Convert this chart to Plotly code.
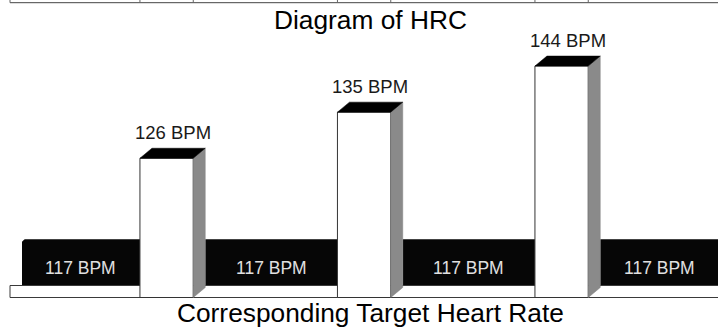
import plotly.graph_objects as go

# ---- data ----
target_labels = ["126 BPM", "135 BPM", "144 BPM"]
target_bpm = [126, 135, 144]
base_labels = ["117 BPM", "117 BPM", "117 BPM", "117 BPM"]
base_bpm = [117, 117, 117, 117]
title_text = "Diagram of HRC"
caption_text = "Corresponding Target Heart Rate"

# ---- canvas & geometry (pixels) ----
W, H = 718, 327
ML, MR, MT, MB = 8, 0, 0, 29
PW, PH = W - ML - MR, H - MT - MB

PERIOD_PX = 197.5        # spacing between tall columns
FIRST_COL_PX = 166.6     # centre of the first tall column (page x)
COL_W_PX = 53.3          # front width of a tall column
DEPTH_X_PX, DEPTH_Y_PX = 12.0, 10.0   # oblique depth of the 3D boxes
FLOOR_LEFT_PX = 10.0
FLOOR_H_PX = 12.0
FLOOR_BOTTOM_PX = 0.5    # floor bottom, above plot bottom
BEVEL_PX = 3.5           # chamfer on the band's outer corner
TEXT_CENTER_PX = 370.0

FONT = "Liberation Sans, Arial, sans-serif"

X_RANGE = [1 + (ML - FIRST_COL_PX) / PERIOD_PX, 1 + (W - MR - FIRST_COL_PX) / PERIOD_PX]
Y_TALL = [98.71, 156.9]   # scale of the target-rate columns
Y_BASE = [0, 594]         # scale of the resting band


def ux(px):
    return px / PERIOD_PX


def uy_tall(px):
    return px * (Y_TALL[1] - Y_TALL[0]) / PH


def uy_base(px):
    return px * (Y_BASE[1] - Y_BASE[0]) / PH


col_w = ux(COL_W_PX)
dx = ux(DEPTH_X_PX)
dy = uy_tall(DEPTH_Y_PX)
floor_left = 1 + (FLOOR_LEFT_PX - FIRST_COL_PX) / PERIOD_PX
x_end = X_RANGE[1]

col_x = [i + 1 for i in range(len(target_bpm))]
tall_base = Y_TALL[0] + uy_tall(FLOOR_BOTTOM_PX)

# resting band segments sit behind, between the tall columns
seg_left, seg_right = [], []
for i in range(len(base_bpm)):
    left = (floor_left if i == 0 else col_x[i - 1] + col_w / 2) + dx
    if i < len(col_x):
        right = col_x[i] - col_w / 2
    else:
        right = left + (1 - col_w - dx)
    seg_left.append(left)
    seg_right.append(right)
seg_center = [(a + b) / 2 for a, b in zip(seg_left, seg_right)]
seg_width = [b - a for a, b in zip(seg_left, seg_right)]

fig = go.Figure()

# resting band (black)
fig.add_trace(go.Bar(
    x=seg_center, y=base_bpm, width=seg_width, base=0,
    marker=dict(color="#060606", line=dict(width=0)),
    yaxis="y", xaxis="x", hoverinfo="skip", showlegend=False,
))

# chamfer on the band's exposed top-left corner
x0b, y0b = seg_left[0], base_bpm[0]
fig.add_trace(go.Scatter(
    x=[x0b - ux(1), x0b + ux(BEVEL_PX), x0b - ux(1), x0b - ux(1)],
    y=[y0b + uy_base(1), y0b + uy_base(1), y0b - uy_base(BEVEL_PX), y0b + uy_base(1)],
    mode="lines", fill="toself", fillcolor="white", line=dict(width=0),
    yaxis="y", xaxis="x", hoverinfo="skip", showlegend=False,
))

# floor slab
fb = Y_BASE[0] + uy_base(FLOOR_BOTTOM_PX)
ft = Y_BASE[0] + uy_base(FLOOR_BOTTOM_PX + FLOOR_H_PX)
fig.add_trace(go.Scatter(
    x=[floor_left, x_end + 0.2, x_end + 0.2, floor_left, floor_left],
    y=[fb, fb, ft, ft, fb],
    mode="lines", fill="toself", fillcolor="white",
    line=dict(color="#3a3a3a", width=1),
    yaxis="y", xaxis="x", hoverinfo="skip", showlegend=False,
))

# target-rate columns (front faces)
fig.add_trace(go.Bar(
    x=col_x, y=[v - tall_base for v in target_bpm], base=tall_base, width=col_w,
    marker=dict(color="white", line=dict(color="#333333", width=1)),
    yaxis="y2", xaxis="x", hoverinfo="skip", showlegend=False,
))

# 3D top and side faces
for xc, v in zip(col_x, target_bpm):
    xl, xr = xc - col_w / 2, xc + col_w / 2
    fig.add_trace(go.Scatter(
        x=[xr, xr + dx, xr + dx, xr, xr],
        y=[v, v + dy, tall_base + dy, tall_base, v],
        mode="lines", fill="toself", fillcolor="#8a8a8a",
        line=dict(color="#808080", width=0.5),
        yaxis="y2", xaxis="x", hoverinfo="skip", showlegend=False,
    ))
    fig.add_trace(go.Scatter(
        x=[xl, xl + dx, xr + dx, xr, xl],
        y=[v, v + dy, v + dy, v, v],
        mode="lines", fill="toself", fillcolor="#000000",
        line=dict(color="#000000", width=0.5),
        yaxis="y2", xaxis="x", hoverinfo="skip", showlegend=False,
    ))

annotations = []
for xc, v, lab in zip(col_x, target_bpm, target_labels):
    annotations.append(dict(
        x=xc + dx / 2, y=v, xref="x", yref="y2", yanchor="bottom",
        yshift=13, text=lab, showarrow=False,
        font=dict(family=FONT, size=18.5, color="#1a1a1a"),
    ))
for a, b, v, lab in zip(seg_left, seg_right, base_bpm, base_labels):
    xc = (a + min(b, x_end)) / 2
    annotations.append(dict(
        x=xc, y=v, xref="x", yref="y", yanchor="top",
        yshift=-17, text=lab, showarrow=False,
        font=dict(family=FONT, size=17.5, color="#e0e0e0"),
    ))
tx = (TEXT_CENTER_PX - ML) / PW
annotations.append(dict(
    x=tx, y=1, xref="paper", yref="paper", yanchor="top", yshift=-2.5,
    text=title_text, showarrow=False,
    font=dict(family=FONT, size=26.3, color="#000000"),
))
annotations.append(dict(
    x=tx, y=0, xref="paper", yref="paper", yanchor="top", yshift=2.5,
    text=caption_text, showarrow=False,
    font=dict(family=FONT, size=26.3, color="#000000"),
))

# strip of the preceding diagram's floor along the top edge
strip_y = 1 - 2.7 / PH
shapes = [dict(type="line", xref="x", yref="paper", x0=floor_left, x1=x_end + 0.2,
               y0=strip_y, y1=strip_y, line=dict(color="#444444", width=1))]
edges = [floor_left] + [e for xc in col_x for e in (xc - col_w / 2, xc + col_w / 2)]
for e in edges:
    shapes.append(dict(type="line", xref="x", yref="paper", x0=e, x1=e,
                       y0=strip_y, y1=1.01, line=dict(color="#666666", width=1)))

fig.update_layout(
    width=W, height=H,
    margin=dict(l=ML, r=MR, t=MT, b=MB, pad=0),
    paper_bgcolor="white", plot_bgcolor="white",
    barmode="overlay", showlegend=False,
    xaxis=dict(range=X_RANGE, visible=False, fixedrange=True),
    yaxis=dict(range=Y_BASE, visible=False, fixedrange=True),
    yaxis2=dict(range=Y_TALL, visible=False, fixedrange=True,
                overlaying="y", side="left"),
    annotations=annotations,
    shapes=shapes,
)

fig.write_html("out.html")
